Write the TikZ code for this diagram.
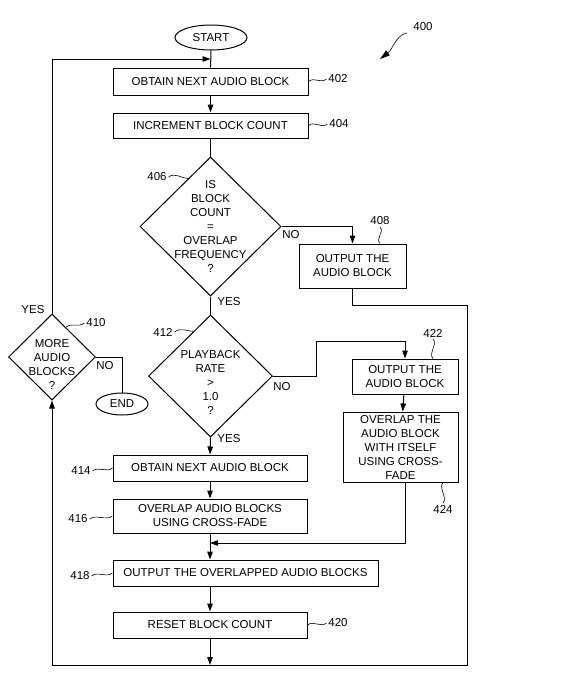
\documentclass[tikz,border=0pt]{standalone}
\usepackage{fontspec}
\setmainfont{Liberation Sans}
\usetikzlibrary{shapes.geometric,arrows.meta}

\begin{document}
\begin{tikzpicture}[x=1pt,y=-1pt,line width=1pt,
        every node/.style={font=\fontsize{11.5}{14}\selectfont},
        box/.style={draw,rectangle,inner sep=0pt,align=center},
        term/.style={draw,ellipse,inner sep=0pt},
        decision/.style={draw,diamond,inner sep=0pt},
        arr/.style={-{Triangle[length=8pt,width=5.5pt]}},
        lead/.style={line width=0.6pt},
        num/.style={inner sep=1.5pt}]
        \useasboundingbox (0,0) rectangle (567,697);
        % terminals
        \node[term,minimum width=72,minimum height=25] (start) at (211,37.5) {START};
        \node[term,minimum width=52,minimum height=22] (end) at (122,404) {END};
        % process boxes
        \node[box,minimum width=195,minimum height=27] (b402) at (210.5,81.5) {OBTAIN NEXT AUDIO BLOCK};
        \node[box,minimum width=195,minimum height=25] (b404) at (210.5,125.5) {INCREMENT BLOCK COUNT};
        \node[box,minimum width=107,minimum height=44] (b408) at (352.5,266) {OUTPUT THE\\AUDIO BLOCK};
        \node[box,minimum width=106,minimum height=35] (b422) at (405,376.5) {OUTPUT THE\\AUDIO BLOCK};
        \node[box,minimum width=115,minimum height=70] (b424) at (400.5,447) {OVERLAP THE\\AUDIO BLOCK\\WITH ITSELF\\USING CROSS-\\FADE};
        \node[box,minimum width=194,minimum height=26] (b414) at (210,468) {OBTAIN NEXT AUDIO BLOCK};
        \node[box,minimum width=194,minimum height=34] (b416) at (210,516) {OVERLAP AUDIO BLOCKS\\USING CROSS-FADE};
        \node[box,minimum width=265,minimum height=26] (b418) at (245.5,573) {OUTPUT THE OVERLAPPED AUDIO BLOCKS};
        \node[box,minimum width=194,minimum height=26] (b420) at (210,625) {RESET BLOCK COUNT};
        % decisions
        \node[decision,minimum width=141,minimum height=139] (d406) at (210.5,226.5) {};
        \node[align=center] (t406) at (210.5,226) {IS\\BLOCK\\COUNT\\=\\OVERLAP\\FREQUENCY\\?};
        \node[decision,minimum width=124,minimum height=122] (d412) at (210.5,376) {};
        \node[align=center] (t412) at (210.5,382) {PLAYBACK\\RATE\\>\\1.0\\?};
        \node[decision,minimum width=87,minimum height=86] (d410) at (52,357) {};
        \node[align=center] (t410) at (52,364) {MORE\\AUDIO\\BLOCKS\\?};
        % branch labels
        \node (no406) at (291,235) {NO};
        \node (yes406) at (229,302) {YES};
        \node (no412) at (282,387) {NO};
        \node (yes412) at (229,439) {YES};
        \node (yes410) at (33,310) {YES};
        \node (no410) at (105,366) {NO};
        % reference numbers
        \node[num] (l400) at (423,27) {400};
        \node[num] (l402) at (338,79) {402};
        \node[num] (l404) at (339,124) {404};
        \node[num] (l406) at (157,177) {406};
        \node[num] (l408) at (380,221) {408};
        \node[num] (l410) at (96,323) {410};
        \node[num] (l412) at (163,332) {412};
        \node[num] (l414) at (81,471) {414};
        \node[num] (l416) at (78,519) {416};
        \node[num] (l418) at (80,576) {418};
        \node[num] (l420) at (338,623) {420};
        \node[num] (l422) at (433,333) {422};
        \node[num] (l424) at (443,509) {424};
        % junctions
        \coordinate (j1) at (210.5,59);
        \coordinate (j2) at (316,341);
        \coordinate (j3) at (210,543);
        \coordinate (c1) at (467,305);
        \coordinate (c2) at (52,665);
        \coordinate (c3) at (210,665);
        \coordinate (c400) at (380,59);
        % connectors
        \draw (start) -- (b402);
        \draw[arr] (b402) -- (b404);
        \draw (b404) -- (d406.north);
        \draw[arr] (d406.east) -| (b408.north);
        \draw (d406.south) -- (d412.north);
        \draw[arr] (d412.east) -| (j2) -| (b422.north);
        \draw[arr] (b422) -- (b424);
        \draw[arr] (b422 |- b424.south) |- (j3);
        \draw[arr] (d412.south) -- (b414.north);
        \draw[arr] (b414) -- (b416);
        \draw[arr] (b416.south) -- (b416.south |- b418.north);
        \draw[arr] (b420 |- b418.south) -- (b420.north);
        \draw[arr] (b420.south) -- (c3);
        \draw[arr] (b408.south) |- (c1) |- (c2) -- (d410.south);
        \draw[arr] (d410.north) |- (j1);
        \draw (d410.east) -| (end.north);
        % leaders
        \draw[-{Triangle[length=10pt,width=6pt]},lead] (407,33) .. controls (396,35) and (393,49) .. (c400);
        \draw[lead] (b402.east) .. controls +(6,-5) and +(-6,5) .. (l402.west);
        \draw[lead] (b404.east) .. controls +(6,-5) and +(-6,5) .. (l404.west);
        \draw[lead] (l406.east) .. controls +(6,-5) and +(-6,0) .. (d406.115);
        \draw[lead] (l408.south) .. controls +(5,5) and +(-5,-5) .. (b408.north -| l408);
        \draw[lead] (l410.west) .. controls +(-6,5) and +(6,-5) .. (d410.65);
        \draw[lead] (l412.east) .. controls +(6,-5) and +(-6,0) .. (d412.111);
        \draw[lead] (l414.east) .. controls +(6,-5) and +(-6,5) .. (b414.west);
        \draw[lead] (l416.east) .. controls +(6,-5) and +(-6,5) .. (b416.west);
        \draw[lead] (l418.east) .. controls +(6,-5) and +(-6,5) .. (b418.west);
        \draw[lead] (b420.east) .. controls +(6,-5) and +(-6,5) .. (l420.west);
        \draw[lead] (l422.south) .. controls +(5,5) and +(-5,-5) .. (b422.north -| l422);
        \draw[lead] (b424.south -| l424) .. controls +(-5,5) and +(5,-5) .. (l424.north);
\end{tikzpicture}
\end{document}
